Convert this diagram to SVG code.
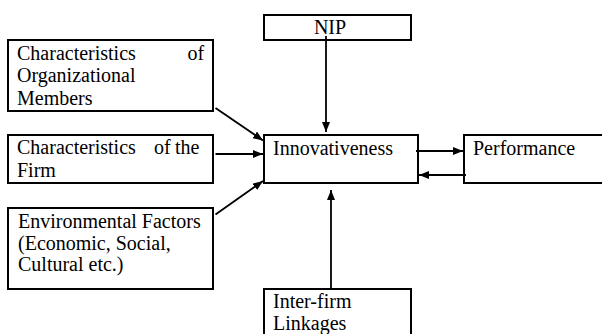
<svg xmlns="http://www.w3.org/2000/svg" width="602" height="334" viewBox="0 0 602 334">
<style>
rect{fill:#fff;stroke:#000;stroke-width:2}
.c{stroke:#000;stroke-width:1.8;fill:none}
</style>
<defs>
<marker id="ah" viewBox="0 0 10 8" refX="10" refY="4" markerWidth="10" markerHeight="8" markerUnits="userSpaceOnUse" orient="auto">
<path d="M0,0 L10,4 L0,8 Z" fill="#000"/>
</marker>
</defs>
<rect x="0" y="0" width="602" height="334" style="stroke:none"/>
<g font-family="Liberation Serif, Times New Roman, serif" font-size="20" fill="#000">
<g id="nip"><rect x="264" y="15" width="147" height="25"/><text x="330" y="34" text-anchor="middle">NIP</text></g>
<g id="members"><rect x="8" y="40" width="205" height="71"/>
<text x="17" y="59.5">Characteristics</text><text x="187.5" y="59.5">of</text>
<text x="17" y="82">Organizational</text><text x="17" y="104.5">Members</text></g>
<g id="firm"><rect x="8" y="135" width="205" height="48"/>
<text x="17" y="154">Characteristics</text><text x="154" y="154">of</text><text x="175" y="154">the</text>
<text x="17" y="177">Firm</text></g>
<g id="env"><rect x="8" y="208" width="205" height="81"/>
<text x="18" y="227.5">Environmental Factors</text><text x="18" y="249.5">(Economic, Social,</text><text x="18" y="271">Cultural etc.)</text></g>
<g id="innov"><rect x="264" y="135" width="154" height="48"/><text x="273" y="155">Innovativeness</text></g>
<g id="perf"><rect x="464" y="135" width="150" height="48"/><text x="473" y="155">Performance</text></g>
<g id="inter"><rect x="264" y="289" width="147" height="60"/><text x="273" y="308">Inter-firm</text><text x="273" y="330">Linkages</text></g>
</g>
<g id="connectors">
<line class="c" x1="326" y1="36" x2="326" y2="132" marker-end="url(#ah)"/>
<line class="c" x1="215.5" y1="108" x2="263" y2="140.5" marker-end="url(#ah)"/>
<line class="c" x1="215.5" y1="154" x2="263" y2="154" marker-end="url(#ah)"/>
<line class="c" x1="215.5" y1="214.5" x2="263" y2="181" marker-end="url(#ah)"/>
<line class="c" x1="416" y1="151" x2="463" y2="151" marker-end="url(#ah)"/>
<line class="c" x1="466" y1="175" x2="419" y2="175" marker-end="url(#ah)"/>
<line class="c" x1="331" y1="288" x2="331" y2="190" marker-end="url(#ah)"/>
</g>
</svg>
